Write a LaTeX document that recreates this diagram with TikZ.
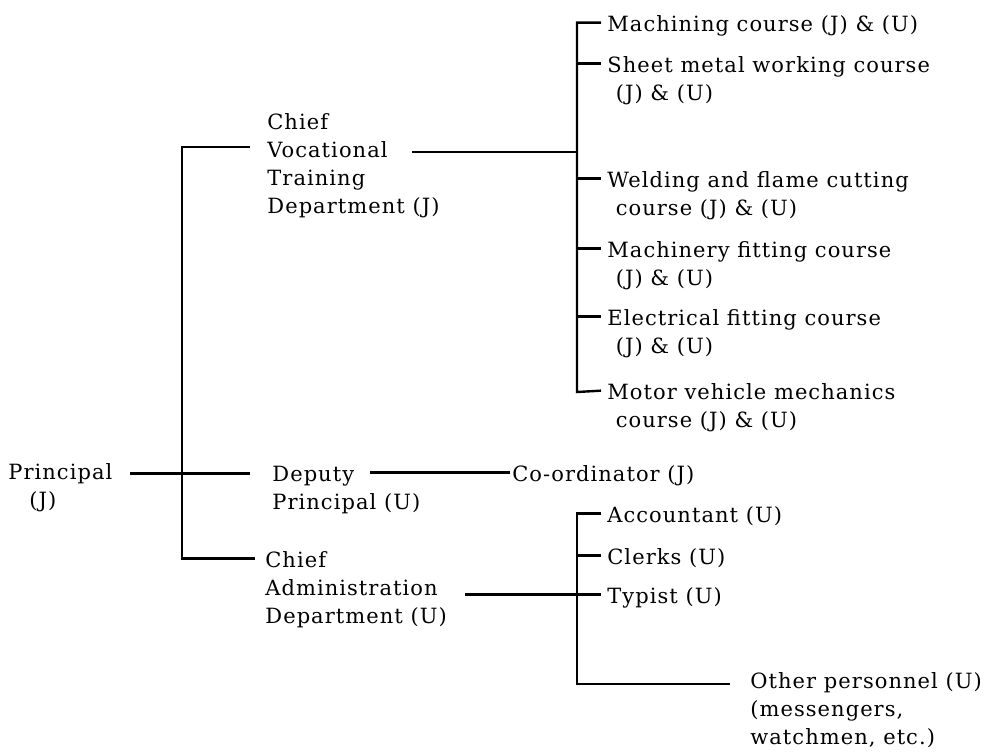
\documentclass[tikz,border=0pt]{standalone}
\usepackage{fontspec}
\setmainfont{DejaVu Serif}[LetterSpace=5]
\tikzset{
  lbl/.style={anchor=base west, inner sep=0pt, align=left,
    font=\fontsize{10.5}{14}\selectfont},
  link/.style={line width=1.2pt},
}
\begin{document}
\begin{tikzpicture}[x=0.5pt,y=-0.5pt]
    \useasboundingbox (0,0) rectangle (997,752);
    % left part
    \node[lbl] (princ) at (8,507) {Principal\\\hspace*{1em}(J)};
    \node[lbl] (cvt) at (267,213) {Chief\\Vocational\\Training\\Department (J)};
    \node[lbl] (dep) at (272,509) {Deputy\\Principal (U)};
    \node[lbl] (cad) at (265,623) {Chief\\Administration\\Department (U)};
    \node[lbl] (coord) at (512,481) {Co-ordinator (J)};
    % courses
    \node[lbl] (mach) at (607,31) {Machining course (J) \& (U)};
    \node[lbl] (sheet) at (607,100) {Sheet metal working course\\\hspace*{0.4em}(J) \& (U)};
    \node[lbl] (weld) at (607,215) {Welding and flame cutting\\\hspace*{0.4em}course (J) \& (U)};
    \node[lbl] (mfit) at (607,285) {Machinery fitting course\\\hspace*{0.4em}(J) \& (U)};
    \node[lbl] (efit) at (607,353) {Electrical fitting course\\\hspace*{0.4em}(J) \& (U)};
    \node[lbl] (motor) at (607,427) {Motor vehicle mechanics\\\hspace*{0.4em}course (J) \& (U)};
    % administration
    \node[lbl] (acct) at (607,522) {Accountant (U)};
    \node[lbl] (clerk) at (607,564) {Clerks (U)};
    \node[lbl] (typ) at (607,603) {Typist (U)};
    \node[lbl] (other) at (750,744) {Other personnel (U)\\(messengers,\\watchmen, etc.)};
    \coordinate (ltop) at (182,147);
    \coordinate (cvtout) at (412,152);
    \coordinate (b1bot) at (577,392);
    \coordinate (b2bot) at (577,684);
    % trunk
    \draw[link] ([xshift=-5pt,yshift=-4pt]cad.north west) -| (ltop) -- ++(68,0);
    \draw[link] ([xshift=-11pt,yshift=-4pt]dep.north west) -- ++(-120,0);
    \draw[link] ([xshift=-1pt,yshift=-4pt]coord.north west) -- ++(-140,0);
    % brackets
    \draw[link] ([xshift=-3pt,yshift=-4pt]mach.north west) -| (b1bot) -- ([xshift=-3pt,yshift=-4pt]motor.north west);
    \foreach \n in {sheet,weld,mfit,efit,clerk}
    \draw[link] ([xshift=-3pt,yshift=-4pt]\n.north west) -- ++(-12pt,0);
    \draw[link] (cvtout) -- (cvtout -| b1bot);
    \draw[link] ([xshift=-3pt,yshift=-4pt]acct.north west) -| (b2bot) -- ++(153,0);
    \draw[link] ([xshift=-3pt,yshift=-4pt]typ.north west) -- ++(-136,0);
  \end{tikzpicture}
\end{document}
